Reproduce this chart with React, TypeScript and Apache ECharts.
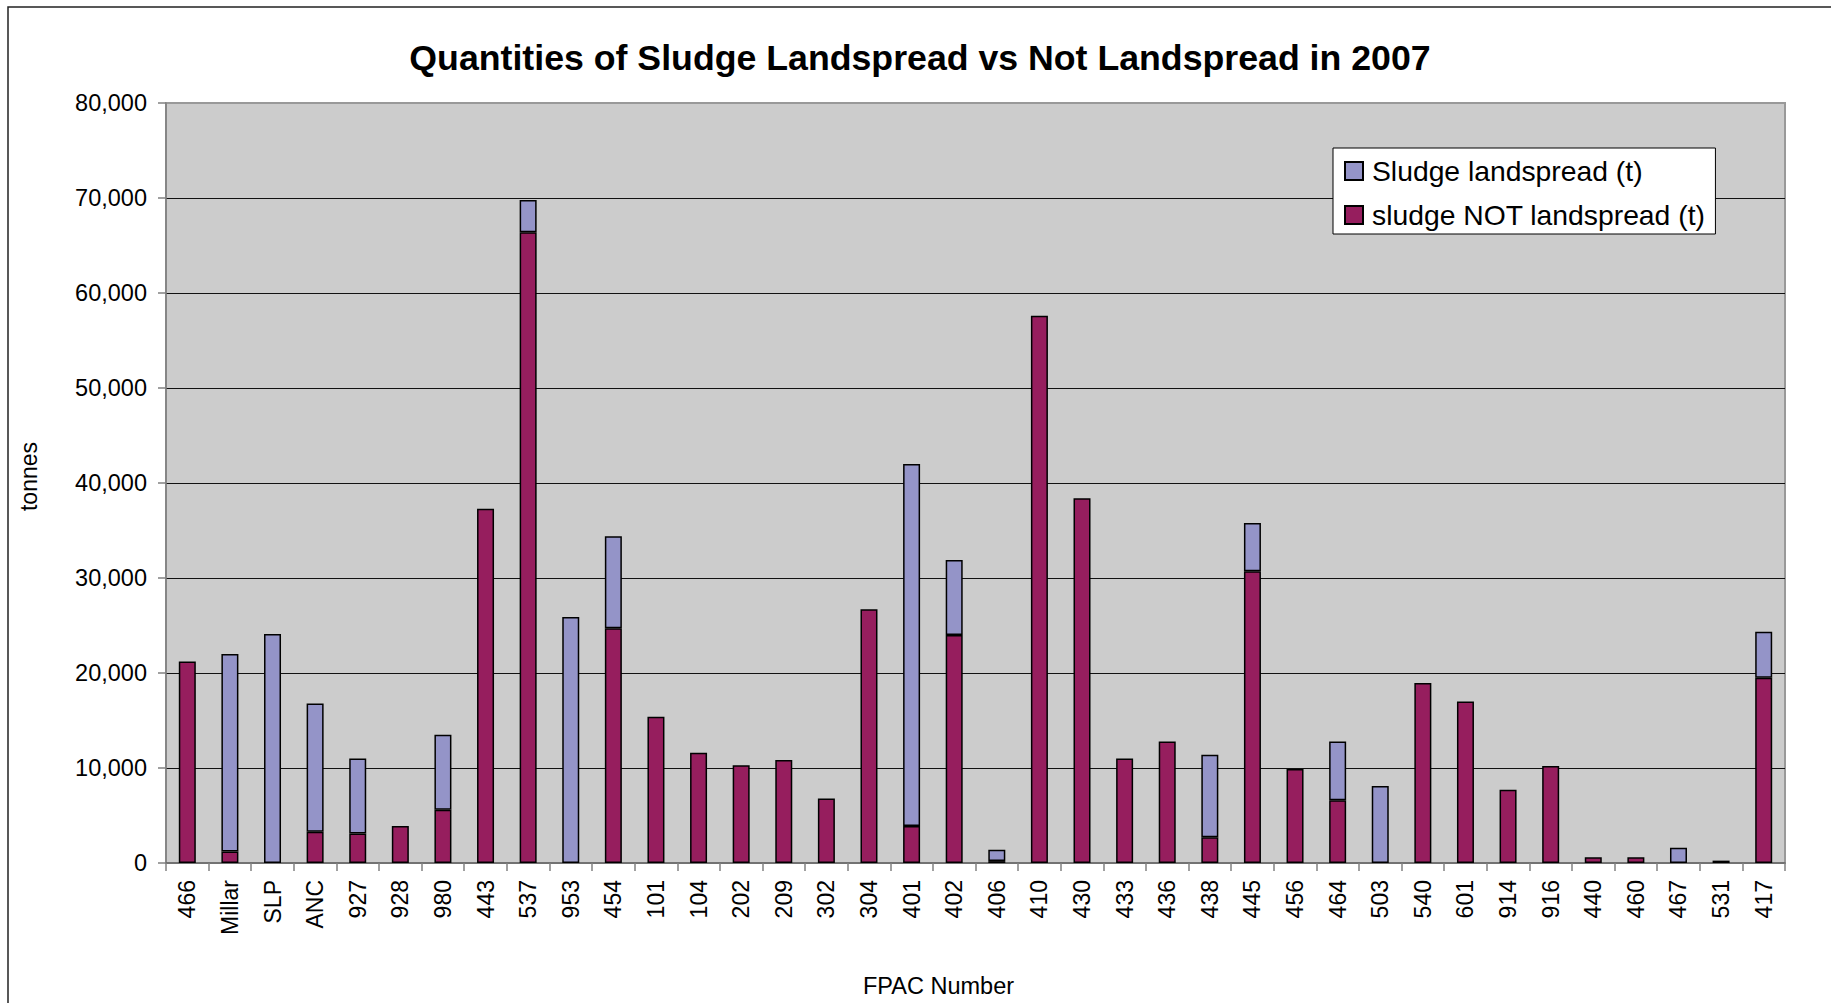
import React, { useEffect, useRef } from "react";
import * as echarts from "echarts";

const categories = [
  "466", "Millar", "SLP", "ANC", "927", "928", "980", "443", "537", "953",
  "454", "101", "104", "202", "209", "302", "304", "401", "402", "406",
  "410", "430", "433", "436", "438", "445", "456", "464", "503", "540",
  "601", "914", "916", "440", "460", "467", "531", "417",
];

const notLandspread = [
  21200, 1200, 0, 3300, 3100, 3900, 5600, 37300, 66400, 0,
  24700, 15400, 11600, 10300, 10850, 6800, 26700, 3900, 24000, 200,
  57600, 38400, 11000, 12800, 2700, 30700, 9900, 6600, 0, 18950,
  17000, 7700, 10200, 600, 600, 0, 250, 19500,
];

const landspread = [
  0, 20800, 24100, 13500, 7900, 0, 7900, 0, 3400, 25900,
  9700, 0, 0, 0, 0, 0, 0, 38100, 7900, 1200,
  0, 0, 0, 0, 8700, 5100, 0, 6200, 8100, 0,
  0, 0, 0, 0, 0, 1600, 0, 4850,
];

const yTicks = { min: 0, max: 80000, interval: 10000 };

const FONT = "'Liberation Sans', Arial, sans-serif";

export default function App() {
  const ref = useRef<HTMLDivElement>(null);

  useEffect(() => {
    if (!ref.current) return;
    const chart = echarts.init(ref.current, undefined, { renderer: "svg" });
    const toData = (arr: number[]) => arr.map((v) => (v === 0 ? "-" : v));
    chart.setOption({
      animation: false,
      backgroundColor: "#ffffff",
      title: {
        text: "Quantities of Sludge Landspread vs Not Landspread in 2007",
        left: 915,
        top: 35,
        textAlign: "center",
        textStyle: {
          fontFamily: FONT,
          fontWeight: "bold",
          fontSize: 35.7,
          color: "#000",
        },
      },
      graphic: [
        {
          type: "rect",
          shape: { x: 8, y: 7, width: 1900, height: 1100 },
          style: { fill: "none", stroke: "#222", lineWidth: 1.5 },
          silent: true,
          z: -10,
        },
      ],
      legend: {
        orient: "vertical",
        left: 1333,
        top: 148,
        data: ["Sludge landspread (t)", "sludge NOT landspread (t)"],
        backgroundColor: "#ffffff",
        borderColor: "#000",
        borderWidth: 1,
        padding: [9, 10, 5, 11],
        itemWidth: 18,
        itemHeight: 18,
        itemGap: 16,
        icon: "rect",
        textStyle: {
          fontFamily: FONT,
          fontSize: 28.3,
          lineHeight: 28,
          color: "#000",
          padding: [0, 0, 0, 4],
        },
      },
      grid: {
        left: 166,
        top: 103,
        width: 1619,
        height: 762,
        show: true,
        backgroundColor: "#cccccc",
        borderColor: "#999999",
        borderWidth: 2,
        containLabel: false,
      },
      xAxis: {
        type: "category",
        data: categories,
        name: "FPAC Number",
        nameLocation: "middle",
        nameGap: 111,
        nameTextStyle: {
          fontFamily: FONT,
          fontSize: 23.5,
          color: "#000",
          padding: [0, 74, 0, 0],
        },
        axisLine: { show: true, lineStyle: { color: "#666", width: 1.5 } },
        axisTick: {
          show: true,
          alignWithLabel: false,
          length: 8,
          lineStyle: { color: "#808080", width: 1.5 },
        },
        axisLabel: {
          interval: 0,
          rotate: 90,
          margin: 17,
          fontFamily: FONT,
          fontSize: 23,
          color: "#000",
        },
      },
      yAxis: {
        type: "value",
        min: yTicks.min,
        max: yTicks.max,
        interval: yTicks.interval,
        name: "tonnes",
        nameLocation: "middle",
        nameGap: 126,
        nameTextStyle: {
          fontFamily: FONT,
          fontSize: 23,
          color: "#000",
          padding: [0, 0, 0, 13],
        },
        axisLine: { show: true, lineStyle: { color: "#808080", width: 1.5 } },
        axisTick: {
          show: true,
          length: 8,
          lineStyle: { color: "#808080", width: 1.5 },
        },
        axisLabel: {
          margin: 19,
          fontFamily: FONT,
          fontSize: 23.5,
          color: "#000",
          formatter: (v: number) => v.toLocaleString("en-US"),
        },
        splitLine: {
          show: true,
          showMaxLine: false,
          showMinLine: false,
          lineStyle: { color: "#111", width: 1 },
        },
      },
      series: [
        {
          name: "sludge NOT landspread (t)",
          type: "bar",
          stack: "total",
          barWidth: 17,
          data: toData(notLandspread),
          itemStyle: { color: "#961e5e", borderColor: "#000", borderWidth: 1.5 },
        },
        {
          name: "Sludge landspread (t)",
          type: "bar",
          stack: "total",
          barWidth: 17,
          data: toData(landspread),
          itemStyle: { color: "#9494c8", borderColor: "#000", borderWidth: 1.5 },
        },
      ],
    });
    return () => chart.dispose();
  }, []);

  return (
    <div
      ref={ref}
      style={{ position: "fixed", left: 0, top: 0, width: 1831, height: 1003 }}
    />
  );
}
